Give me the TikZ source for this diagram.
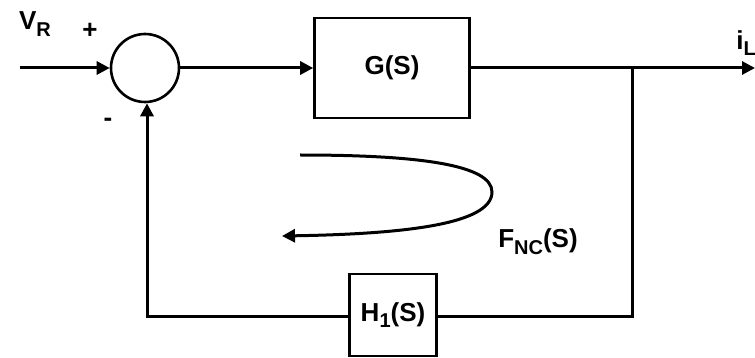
\documentclass[tikz,border=0pt]{standalone}
\usepackage{fontspec}
\setmainfont{Liberation Sans}
\usetikzlibrary{arrows.meta}
\newcommand{\mysub}[1]{\raisebox{-0.26em}{\fontsize{20}{22}\selectfont #1}}
\begin{document}
\begin{tikzpicture}[x=1pt,y=-1pt,
  line width=3pt,
  lbl/.style={font=\fontsize{26}{28}\selectfont\bfseries, inner sep=0pt},
  blk/.style={draw, line width=2.6pt, font=\fontsize{26}{28}\selectfont\bfseries},
  arr/.style={-{Triangle[length=13pt,width=13pt]}}]
\useasboundingbox (0,0) rectangle (755,358);
\node[draw, circle, minimum size=68pt, inner sep=0pt, line width=2.6pt] (sum) at (145,68) {};
\node[blk, minimum width=155pt, minimum height=100pt] (G) at (392,68) {G(S)};
\node[blk, minimum width=87pt, minimum height=82pt] (H) at (393,315) {H\mysub{1}(S)};
\coordinate (in) at (20,68);
\coordinate (out) at (755,68);
\coordinate (br) at (632,68);
\coordinate (brd) at (632,316);
\coordinate (bl) at (147,316);
\draw[arr] (in) -- (sum.west);
\draw[arr] (sum.east) -- (G.west);
\draw[arr] (G.east) -- (out);
\draw (br) -- (brd) -- (H.east |- brd);
\draw[arr] (H.west |- bl) -- (bl) -- (sum.south -| bl);
\coordinate (c1) at (300,155);
\coordinate (c2) at (282,236);
\draw[arr] (c1) .. controls (420,155) and (492,165) .. (492,192)
  .. controls (492,225) and (400,234) .. (c2);
\node[lbl] (vr) at (35,24) {V\mysub{R}};
\node[lbl] (plus) at (90,31) {+};
\node[lbl] (minus) at (108,122) {-};
\node[lbl] (il) at (746,43) {i\mysub{L}};
\node[lbl] (fnc) at (538,242) {F\mysub{NC}(S)};
\end{tikzpicture}
\end{document}
